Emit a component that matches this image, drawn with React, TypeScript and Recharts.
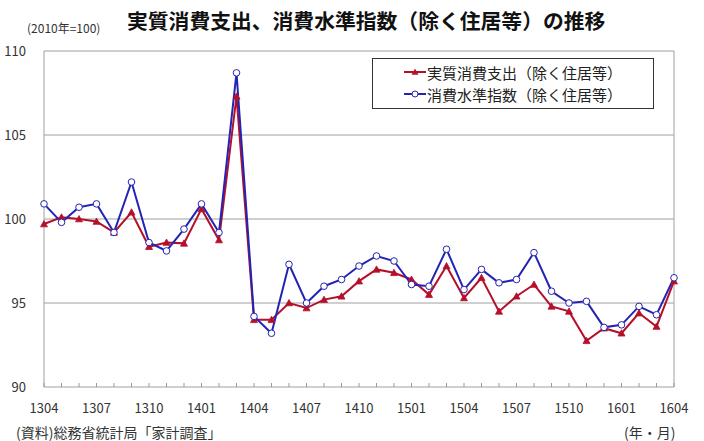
import React from "react";
import { LineChart, Line, XAxis, YAxis, CartesianGrid } from "recharts";

const months = [
  "1304", "1305", "1306", "1307", "1308", "1309", "1310", "1311", "1312",
  "1401", "1402", "1403", "1404", "1405", "1406", "1407", "1408", "1409",
  "1410", "1411", "1412", "1501", "1502", "1503", "1504", "1505", "1506",
  "1507", "1508", "1509", "1510", "1511", "1512", "1601", "1602", "1603",
  "1604",
];

// 実質消費支出(除く住居等)
const realSpending = [
  99.7, 100.1, 100.0, 99.85, 99.2, 100.4, 98.35, 98.6, 98.55,
  100.6, 98.75, 107.3, 94.0, 94.0, 95.0, 94.7, 95.2, 95.4,
  96.3, 97.0, 96.8, 96.4, 95.5, 97.2, 95.3, 96.5, 94.5,
  95.4, 96.1, 94.8, 94.5, 92.75, 93.5, 93.2, 94.4, 93.6,
  96.3,
];

// 消費水準指数(除く住居等)
const levelIndex = [
  100.9, 99.8, 100.7, 100.9, 99.2, 102.2, 98.6, 98.1, 99.4,
  100.9, 99.2, 108.7, 94.2, 93.2, 97.3, 95.0, 96.0, 96.4,
  97.2, 97.8, 97.5, 96.1, 96.0, 98.2, 95.8, 97.0, 96.2,
  96.4, 98.0, 95.7, 95.0, 95.1, 93.55, 93.7, 94.8, 94.3,
  96.5,
];

const yTicks = [90, 95, 100, 105, 110];

const data = months.map((m, i) => ({
  month: m,
  real: realSpending[i],
  level: levelIndex[i],
}));

const RED = "#b5102a";
const BLUE = "#2424b4";
const FONT = "'Noto Sans CJK JP', 'Noto Sans', sans-serif";

function Triangle(props: any) {
  const { cx, cy } = props;
  if (cx == null || cy == null) return null;
  return (
    <path
      d={`M${cx},${cy - 3.5} L${cx + 3.5},${cy + 2.8} L${cx - 3.5},${cy + 2.8} Z`}
      fill={RED}
      stroke={RED}
      strokeWidth={0.8}
    />
  );
}

function MonthTick(props: any) {
  const { x, y, index, payload } = props;
  return (
    <g>
      <line x1={x} y1={y} x2={x} y2={y - 4} stroke="#999" strokeWidth={1} />
      {index % 3 === 0 && (
        <text
          x={x}
          y={y + 26}
          textAnchor="middle"
          fontSize={13}
          fill="#333"
          fontFamily={FONT}
        >
          {payload.value}
        </text>
      )}
    </g>
  );
}

function LegendBox() {
  const rows = [
    { label: "実質消費支出（除く住居等）", color: RED, kind: "tri" },
    { label: "消費水準指数（除く住居等）", color: BLUE, kind: "circle" },
  ];
  return (
    <div
      style={{
        position: "absolute",
        left: 372,
        top: 58,
        border: "1px solid #333",
        background: "#fff",
        width: 282,
        height: 51,
        boxSizing: "border-box",
        paddingTop: 2,
        fontFamily: FONT,
      }}
    >
      {rows.map((r) => (
        <div
          key={r.label}
          style={{ display: "flex", alignItems: "center", height: 22, paddingLeft: 30 }}
        >
          <svg width={23} height={12} style={{ marginRight: 1 }}>
            <line x1={1} y1={6} x2={23} y2={6} stroke={r.color} strokeWidth={2} />
            {r.kind === "tri" ? (
              <path d="M12,2.5 L15.5,8.8 L8.5,8.8 Z" fill={RED} />
            ) : (
              <circle cx={12} cy={6} r={3} fill="#fff" stroke={BLUE} strokeWidth={1} />
            )}
          </svg>
          <span style={{ fontSize: 15, color: "#222" }}>{r.label}</span>
        </div>
      ))}
    </div>
  );
}

export default function App() {
  return (
    <div
      style={{
        position: "absolute",
        left: 0,
        top: 0,
        width: 704,
        height: 441,
        background: "#fff",
        fontFamily: FONT,
        overflow: "hidden",
      }}
    >
      <div style={{ position: "absolute", left: 27, top: 19, fontSize: 12, color: "#333" }}>
        (2010年=100)
      </div>
      <div
        style={{
          position: "absolute",
          left: 127,
          top: 5,
          fontSize: 20.8,
          fontWeight: 700,
          color: "#111",
          whiteSpace: "nowrap",
        }}
      >
        実質消費支出、消費水準指数（除く住居等）の推移
      </div>
      <LineChart
        width={704}
        height={441}
        data={data}
        margin={{ top: 51, right: 30, bottom: 24, left: 0 }}
      >
        <CartesianGrid
          stroke="#a0a0a0"
          strokeWidth={1}
          verticalCoordinatesGenerator={({ offset }: any) => [
            offset.left,
            offset.left + offset.width,
          ]}
        />
        <XAxis
          dataKey="month"
          interval={0}
          height={30}
          tickSize={0}
          tickMargin={0}
          axisLine={false}
          tick={<MonthTick />}
        />
        <YAxis
          domain={[90, 110]}
          ticks={yTicks}
          width={44}
          axisLine={false}
          tickLine={false}
          tickMargin={12}
          tick={{ fontSize: 13, fill: "#333", fontFamily: FONT }}
        />
        <Line
          dataKey="real"
          stroke={RED}
          strokeWidth={2}
          dot={<Triangle />}
          activeDot={false}
          isAnimationActive={false}
        />
        <Line
          dataKey="level"
          stroke={BLUE}
          strokeWidth={2}
          dot={{ r: 3.3, fill: "#fff", stroke: BLUE, strokeWidth: 1 }}
          activeDot={false}
          isAnimationActive={false}
        />
      </LineChart>
      <LegendBox />
      <div
        style={{
          position: "absolute",
          left: 16,
          top: 425,
          fontSize: 14,
          lineHeight: "15px",
          color: "#333",
          whiteSpace: "nowrap",
        }}
      >
        (資料)総務省統計局「家計調査」
      </div>
      <div
        style={{
          position: "absolute",
          left: 624,
          top: 425,
          fontSize: 14,
          lineHeight: "15px",
          color: "#333",
          whiteSpace: "nowrap",
        }}
      >
        (年・月)
      </div>
    </div>
  );
}
